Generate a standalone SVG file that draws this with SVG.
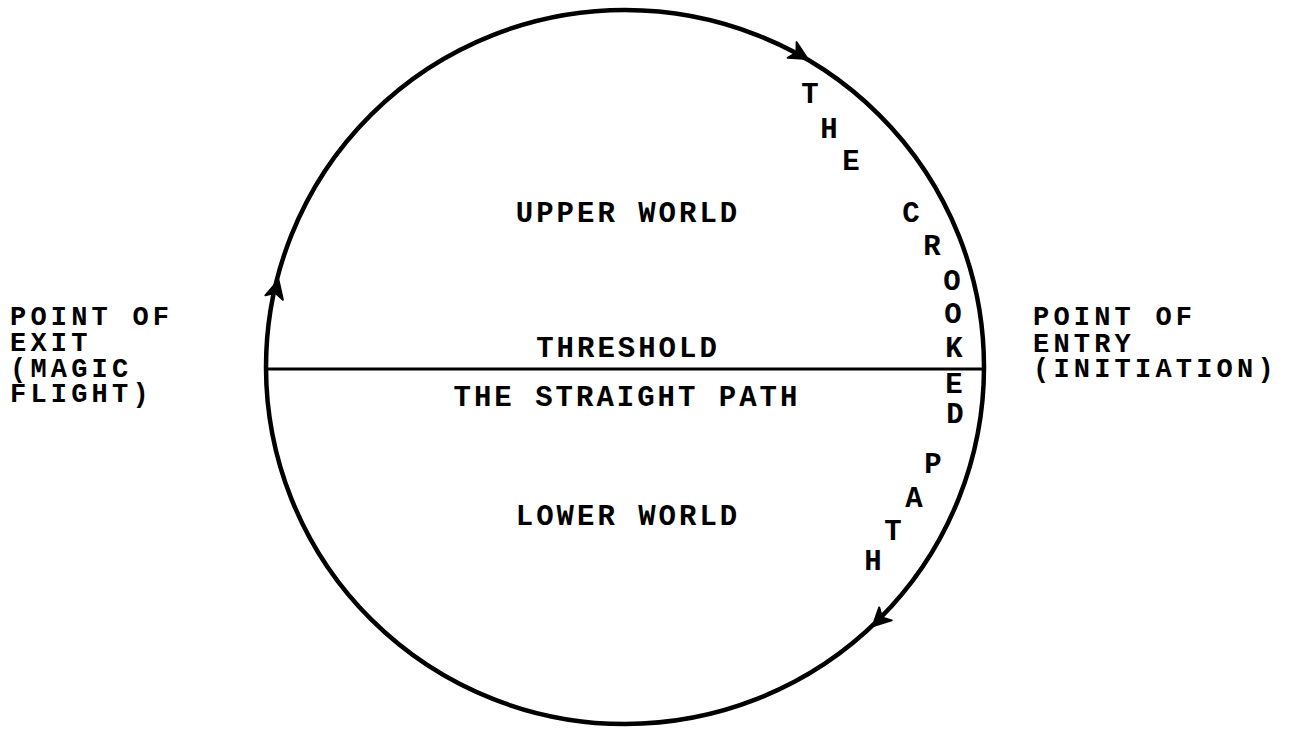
<svg xmlns="http://www.w3.org/2000/svg" width="1303" height="731" viewBox="0 0 1303 731">
<style>
text{font-family:"Liberation Mono","Courier New",monospace;font-weight:bold;font-size:29px;letter-spacing:3px;fill:#000}
.m{text-anchor:middle}
.c{text-anchor:middle;letter-spacing:0}
.s{font-size:27px;letter-spacing:4.2px}
.ln{fill:none;stroke:#000}
</style>
<defs>
<path id="ah" d="M2,0 L-16,-9 L-11,0 L-16,9 Z" fill="#000" stroke="#000" stroke-width="2" stroke-linejoin="round"/>
</defs>
<rect width="1303" height="731" fill="#fff"/>
<g id="connectors">
<ellipse id="circle" class="ln" cx="625" cy="367" rx="359" ry="357" stroke-width="4.5"/>
<line id="threshold-line" class="ln" x1="266" y1="369" x2="984" y2="369" stroke-width="3"/>
<use href="#ah" transform="translate(806,58) rotate(30)"/>
<use href="#ah" transform="translate(278,282) rotate(-76)"/>
<use href="#ah" transform="translate(874,625) rotate(136)"/>
</g>
<g id="upper-world"><text class="m" x="628" y="222">UPPER WORLD</text></g>
<g id="threshold"><text class="m" x="628" y="357">THRESHOLD</text></g>
<g id="straight-path"><text class="m" x="627" y="406">THE STRAIGHT PATH</text></g>
<g id="lower-world"><text class="m" x="628" y="525">LOWER WORLD</text></g>
<g id="point-of-exit">
<text class="s" x="10" y="325">POINT OF</text>
<text class="s" x="10" y="351">EXIT</text>
<text class="s" x="10" y="377">(MAGIC</text>
<text class="s" x="10" y="402">FLIGHT)</text>
</g>
<g id="point-of-entry">
<text class="s" x="1033" y="325">POINT OF</text>
<text class="s" x="1033" y="352">ENTRY</text>
<text class="s" x="1033" y="377">(INITIATION)</text>
</g>
<g id="crooked-path">
<text class="c" x="810" y="103">T</text>
<text class="c" x="829" y="138">H</text>
<text class="c" x="851" y="170">E</text>
<text class="c" x="911" y="222">C</text>
<text class="c" x="932" y="255">R</text>
<text class="c" x="952" y="290">O</text>
<text class="c" x="953" y="323">O</text>
<text class="c" x="954" y="357">K</text>
<text class="c" x="954" y="393">E</text>
<text class="c" x="955" y="423">D</text>
<text class="c" x="933" y="473">P</text>
<text class="c" x="914" y="507">A</text>
<text class="c" x="893" y="540">T</text>
<text class="c" x="873" y="570">H</text>
</g>
</svg>
